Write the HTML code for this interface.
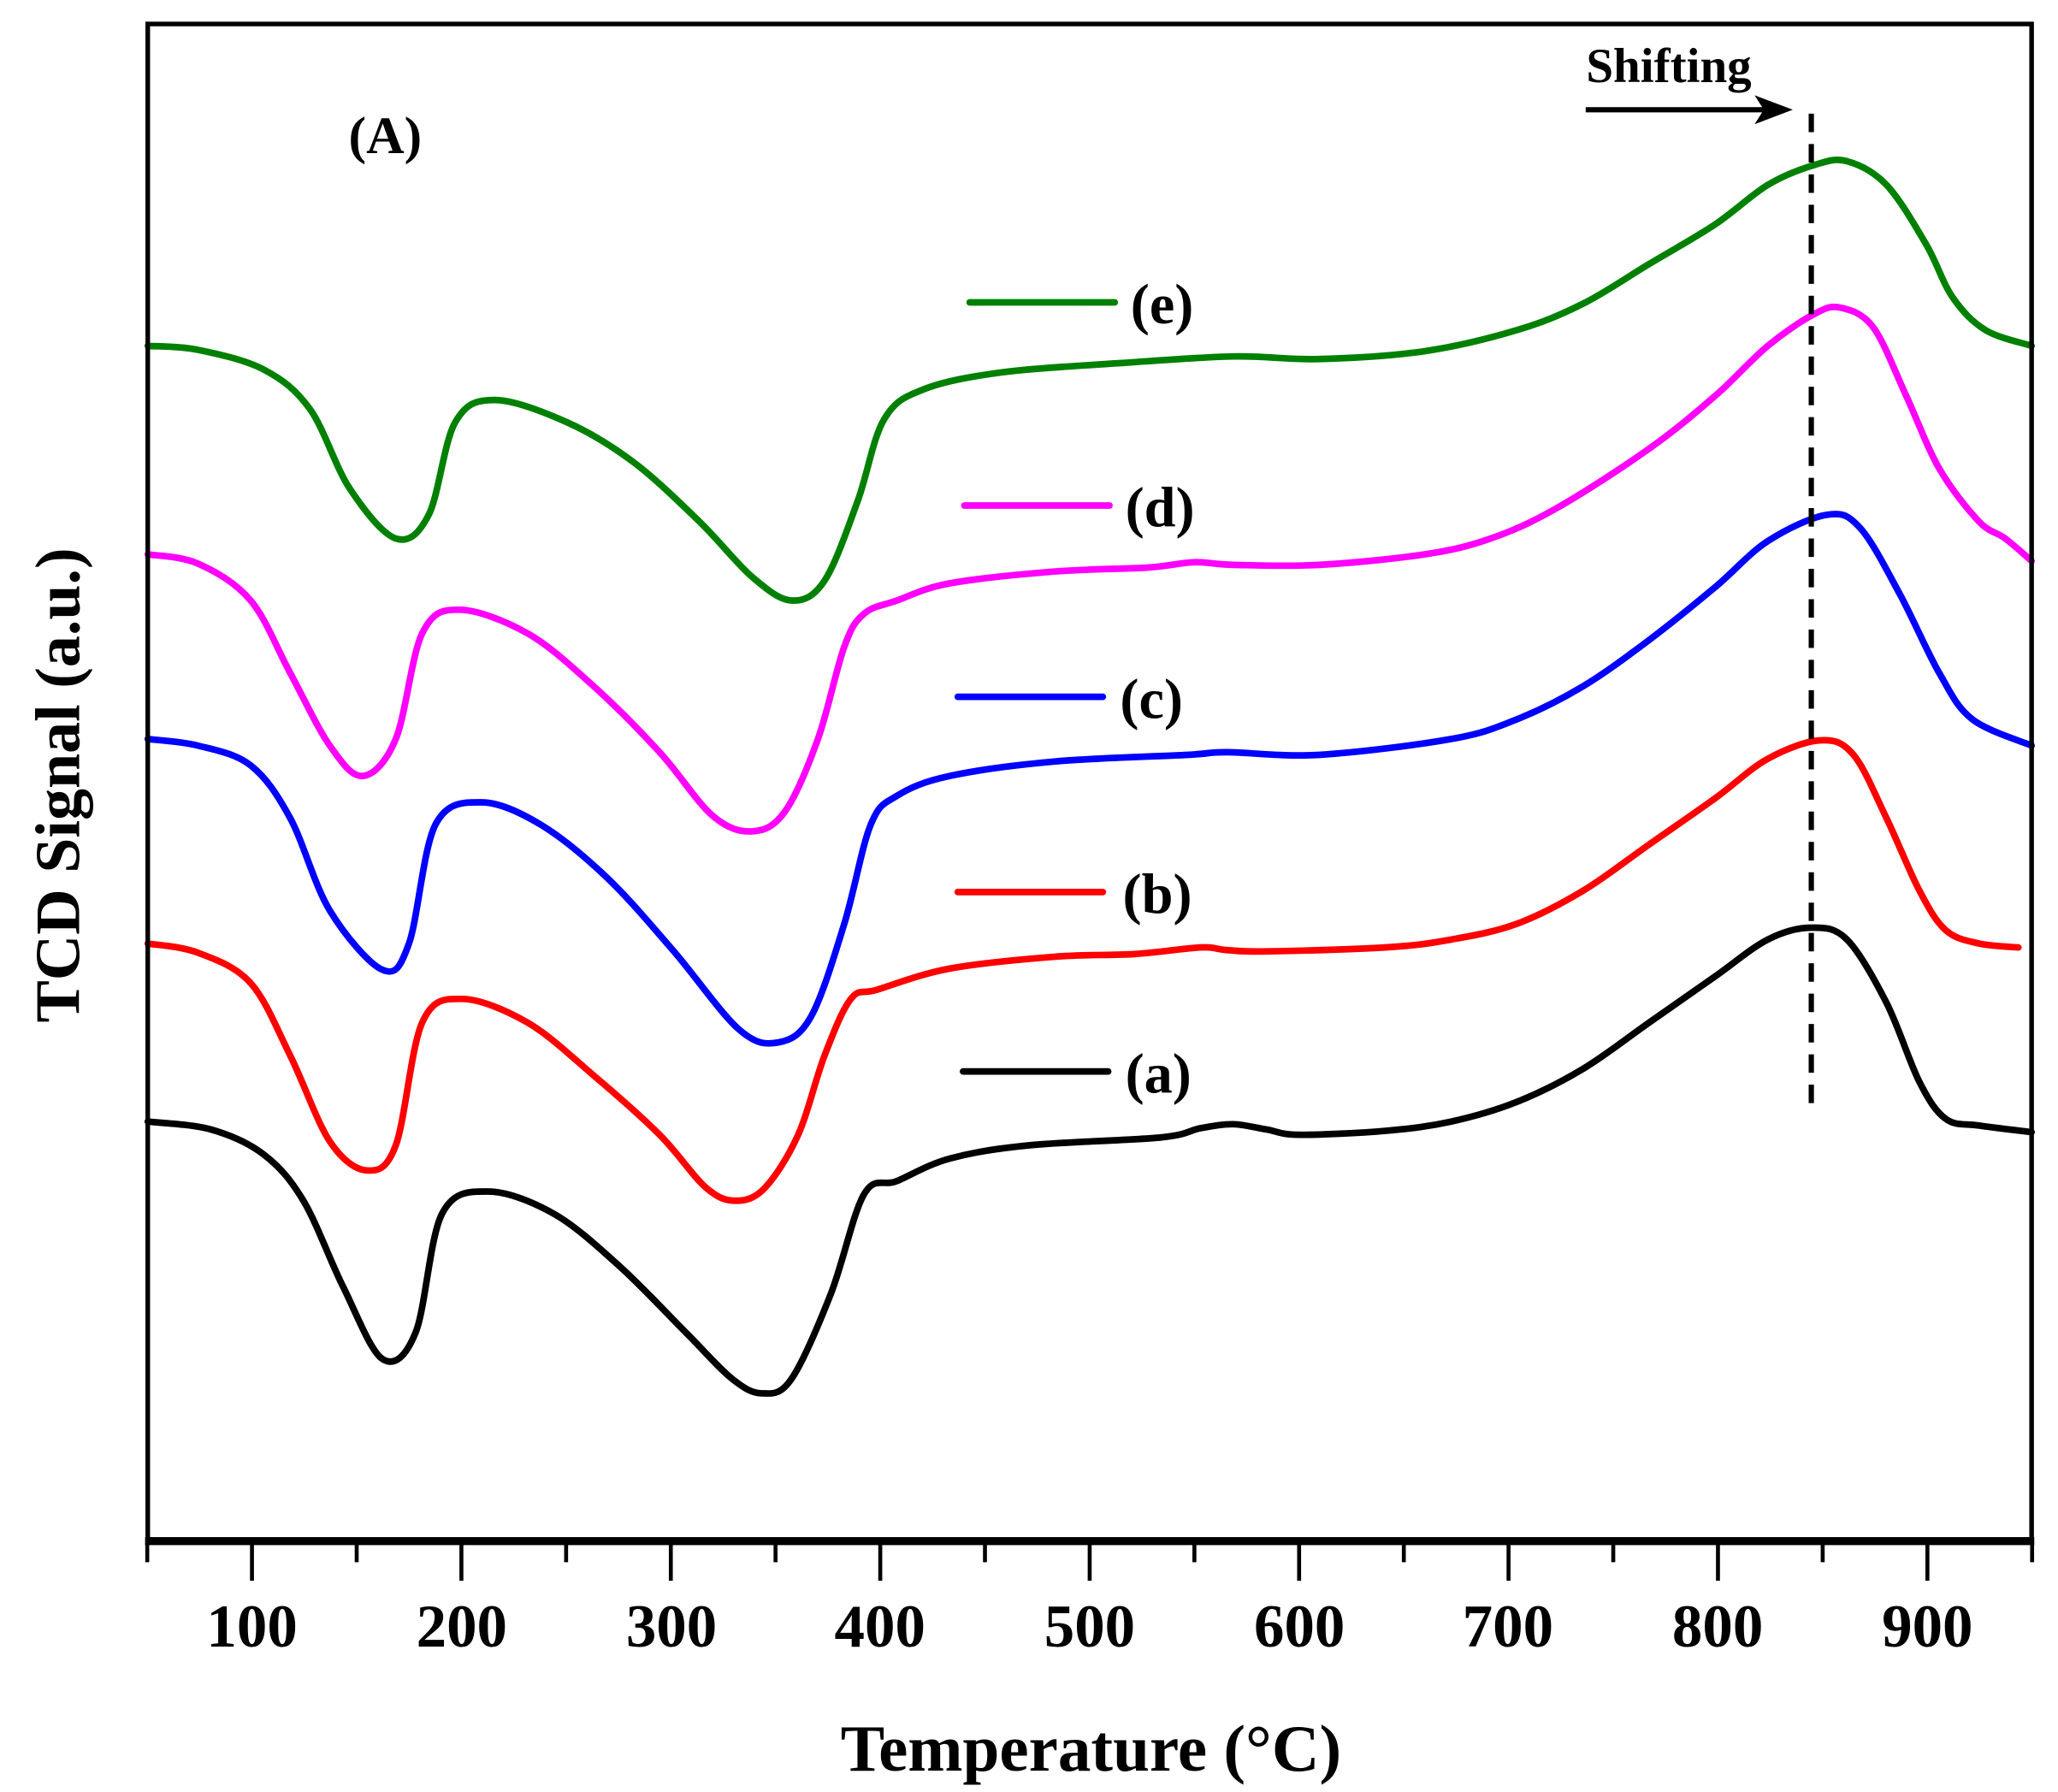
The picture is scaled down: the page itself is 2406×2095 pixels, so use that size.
<!DOCTYPE html>
<html><head><meta charset="utf-8"><style>
html,body{margin:0;padding:0;background:#fff}
svg{display:block}
text{font-family:"Liberation Serif",serif;font-weight:bold;fill:#000}
</style></head><body>
<svg id="s" width="2406" height="2095" viewBox="0 0 1560 1358" xmlns="http://www.w3.org/2000/svg">
<rect x="0" y="0" width="1560" height="1358" fill="#fff"/>
<g id="curves" fill="none" stroke-width="5" stroke-linejoin="round" stroke-linecap="round"></g>
<rect x="112" y="18" width="1428" height="1150" fill="none" stroke="#000" stroke-width="3.5"/>
<line x1="110" y1="1168" x2="1542" y2="1168" stroke="#000" stroke-width="6"/>
<g id="ticks" stroke="#000" stroke-width="3"></g>
<g font-size="46" text-anchor="middle">
<text x="191" y="1248">100</text><text x="350" y="1248">200</text><text x="509" y="1248">300</text>
<text x="667" y="1248">400</text><text x="826" y="1248">500</text><text x="985" y="1248">600</text>
<text x="1143" y="1248">700</text><text x="1302" y="1248">800</text><text x="1461" y="1248">900</text>
</g>
<text x="827" y="1342" font-size="50" text-anchor="middle">Temperature (°C)</text>
<text transform="translate(60,595) rotate(-90)" font-size="48" text-anchor="middle">TCD Signal (a.u.)</text>
<text x="292" y="116" font-size="40" text-anchor="middle">(A)</text>
<text x="1265" y="62" font-size="37" text-anchor="middle">Shifting</text>
<line x1="1202" y1="83" x2="1340" y2="83" stroke="#000" stroke-width="4"/>
<path d="M1330,72 L1359,83 L1330,94 L1337,83 Z" fill="#000"/>
<line x1="1373" y1="86" x2="1373" y2="840" stroke="#000" stroke-width="4" stroke-dasharray="14,9"/>
<g stroke-width="5" stroke-linecap="round">
<line x1="735" y1="229" x2="845" y2="229" stroke="#008000"/>
<line x1="731" y1="383" x2="841" y2="383" stroke="#ff00ff"/>
<line x1="726" y1="528" x2="836" y2="528" stroke="#0000ff"/>
<line x1="726" y1="676" x2="836" y2="676" stroke="#ff0000"/>
<line x1="730" y1="812" x2="840" y2="812" stroke="#000"/>
</g>
<g font-size="43">
<text x="857" y="245">(e)</text><text x="853" y="399">(d)</text><text x="849" y="544">(c)</text>
<text x="851" y="692">(b)</text><text x="853" y="828">(a)</text>
</g>
</svg>
<script>
var NS="http://www.w3.org/2000/svg";
var t=document.getElementById("ticks");
for(var T=50;T<=950;T+=50){var x=191+(T-100)*1.5875;var l=document.createElementNS(NS,"line");
l.setAttribute("x1",x);l.setAttribute("x2",x);l.setAttribute("y1",1168);l.setAttribute("y2",T%100==0?1198:1184);t.appendChild(l);}
function path(p){var d="M"+p[0][0]+","+p[0][1];for(var i=0;i<p.length-1;i++){var p0=p[i-1]||p[i],p1=p[i],p2=p[i+1],p3=p[i+2]||p2;
d+=" C"+(p1[0]+(p2[0]-p0[0])/6)+","+(p1[1]+(p2[1]-p0[1])/6)+" "+(p2[0]-(p3[0]-p1[0])/6)+","+(p2[1]-(p3[1]-p1[1])/6)+" "+p2[0]+","+p2[1];}return d;}
var S=[
["#000",[[112,850],[160,856],[200,875],[230,910],[260,975],[290,1030],[315,1010],[335,920],[370,903],[420,920],[470,960],[520,1010],[555,1045],[578,1056],[600,1045],[630,980],[655,905],[680,895],[720,878],[780,868],[880,862],[910,855],[935,852],[960,856],[985,860],[1050,857],[1100,850],[1150,835],[1200,810],[1250,775],[1300,740],[1340,712],[1373,703],[1400,712],[1430,760],[1455,820],[1475,848],[1500,853],[1540,858]]],
["#ff0000",[[112,715],[150,722],[190,745],[220,800],[250,865],[278,887],[300,868],[320,775],[350,757],[400,775],[450,815],[500,860],[535,900],[558,910],[580,900],[605,860],[625,800],[645,757],[665,750],[720,734],[800,725],[860,723],[910,718],[930,720],[960,721],[1050,718],[1100,712],[1150,700],[1200,675],[1250,640],[1300,605],[1340,575],[1380,561],[1405,572],[1430,620],[1455,675],[1475,705],[1500,715],[1530,718]]],
["#0000ff",[[112,560],[150,565],[190,580],[220,620],[250,690],[290,735],[310,715],[330,625],[365,608],[410,625],[460,665],[510,720],[560,780],[590,790],[615,770],[640,700],[660,625],[680,603],[720,588],[800,577],[900,572],[930,570],[1000,572],[1100,560],[1150,545],[1200,520],[1250,485],[1300,445],[1340,410],[1385,390],[1410,400],[1440,450],[1470,510],[1495,545],[1540,565]]],
["#ff00ff",[[112,420],[150,427],[190,455],[220,510],[250,565],[275,588],[300,560],[320,480],[348,462],[400,480],[450,520],[500,570],[540,618],[570,630],[595,615],[620,560],[640,490],[655,465],[680,455],[720,442],[800,433],[870,430],[905,426],[935,428],[1000,428],[1080,420],[1130,408],[1180,385],[1250,340],[1300,300],[1340,262],[1375,238],[1395,233],[1420,248],[1445,300],[1470,355],[1500,395],[1520,408],[1540,425]]],
["#008000",[[112,262],[150,265],[200,280],[235,310],[265,370],[300,408],[325,390],[345,320],[375,303],[430,320],[480,350],[530,395],[570,437],[600,455],[625,440],[650,380],[670,318],[700,295],[760,282],[850,275],[935,270],[1000,272],[1080,266],[1150,250],[1200,230],[1250,200],[1300,170],[1340,140],[1375,125],[1400,122],[1430,140],[1460,185],[1480,225],[1505,250],[1540,262]]]];
var g=document.getElementById("curves");
S.forEach(function(s){var p=document.createElementNS(NS,"path");p.setAttribute("d",path(s[1]));p.setAttribute("stroke",s[0]);g.appendChild(p);});
</script>
</body></html>
